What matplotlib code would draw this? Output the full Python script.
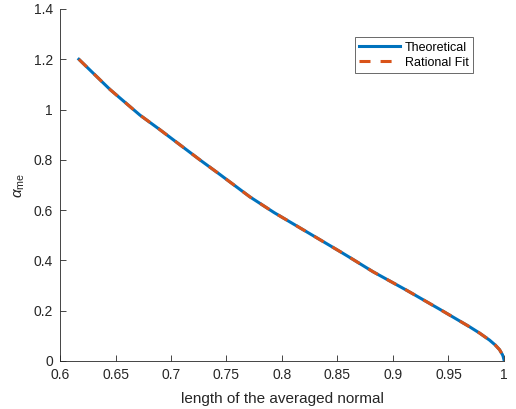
import matplotlib
matplotlib.use('Agg')
import matplotlib.pyplot as plt
from matplotlib.ticker import FuncFormatter

# values
normal_len = [0.617, 0.645, 0.672, 0.69, 0.708, 0.726, 0.744, 0.771, 0.793, 0.816, 0.852,
              0.861, 0.882, 0.912, 0.942, 0.969, 0.978, 0.987, 0.992, 0.996, 0.999, 1.0]
alpha_theory = [1.2, 1.080, 0.978, 0.920, 0.860, 0.800, 0.742, 0.653, 0.590, 0.530, 0.436,
                0.412, 0.355, 0.282, 0.206, 0.136, 0.111, 0.083, 0.064, 0.045, 0.022, 0.005]
alpha_fit = [1.2, 1.080, 0.978, 0.920, 0.860, 0.800, 0.742, 0.653, 0.590, 0.530, 0.436,
             0.412, 0.355, 0.282, 0.206, 0.136, 0.111, 0.083, 0.064, 0.045, 0.022, 0.005]

x_ticks = [0.6, 0.65, 0.7, 0.75, 0.8, 0.85, 0.9, 0.95, 1.0]
y_ticks = [0, 0.2, 0.4, 0.6, 0.8, 1.0, 1.2, 1.4]

plt.rcParams['font.family'] = ['Liberation Sans', 'DejaVu Sans']
plt.rcParams['mathtext.fontset'] = 'custom'
plt.rcParams['mathtext.rm'] = 'Liberation Sans'
plt.rcParams['mathtext.it'] = 'Liberation Sans:italic'

fig = plt.figure(figsize=(5.16, 4.09), dpi=100)
ax = fig.add_axes([0.1163, 0.1174, 0.8604, 0.8606])

ax.plot(normal_len, alpha_theory, color='#0072BD', lw=2.2, label='Theoretical')
ax.plot(normal_len, alpha_fit, color='#D95319', lw=2.2, ls=(0, (3.6, 3.3)), label='Rational Fit')

ax.set_xlim(0.6, 1.0)
ax.set_ylim(0, 1.4)
ax.set_xticks(x_ticks)
ax.set_yticks(y_ticks)
fmt = FuncFormatter(lambda v, p: '%g' % round(v, 4))
ax.xaxis.set_major_formatter(fmt)
ax.yaxis.set_major_formatter(fmt)

for s in ['top', 'right']:
    ax.spines[s].set_visible(False)
for s in ['left', 'bottom']:
    ax.spines[s].set_color('#262626')
    ax.spines[s].set_linewidth(0.6)
ax.tick_params(direction='in', length=4, width=0.6, colors='#262626', labelsize=10, pad=5)

ax.set_xlabel('length of the averaged normal', fontsize=11, color='#262626', labelpad=7)
ax.set_ylabel(r'$\alpha_{\rm me}$', fontsize=11, color='#262626', labelpad=5)

leg = ax.legend(loc='upper right', bbox_to_anchor=(0.93, 0.92), borderaxespad=0, fontsize=9,
                frameon=True, fancybox=False, edgecolor='#262626',
                handlelength=3.3, borderpad=0.35, labelspacing=0.25, handletextpad=0.35)
leg.get_frame().set_linewidth(0.6)

fig.savefig('out.png', dpi=100)
